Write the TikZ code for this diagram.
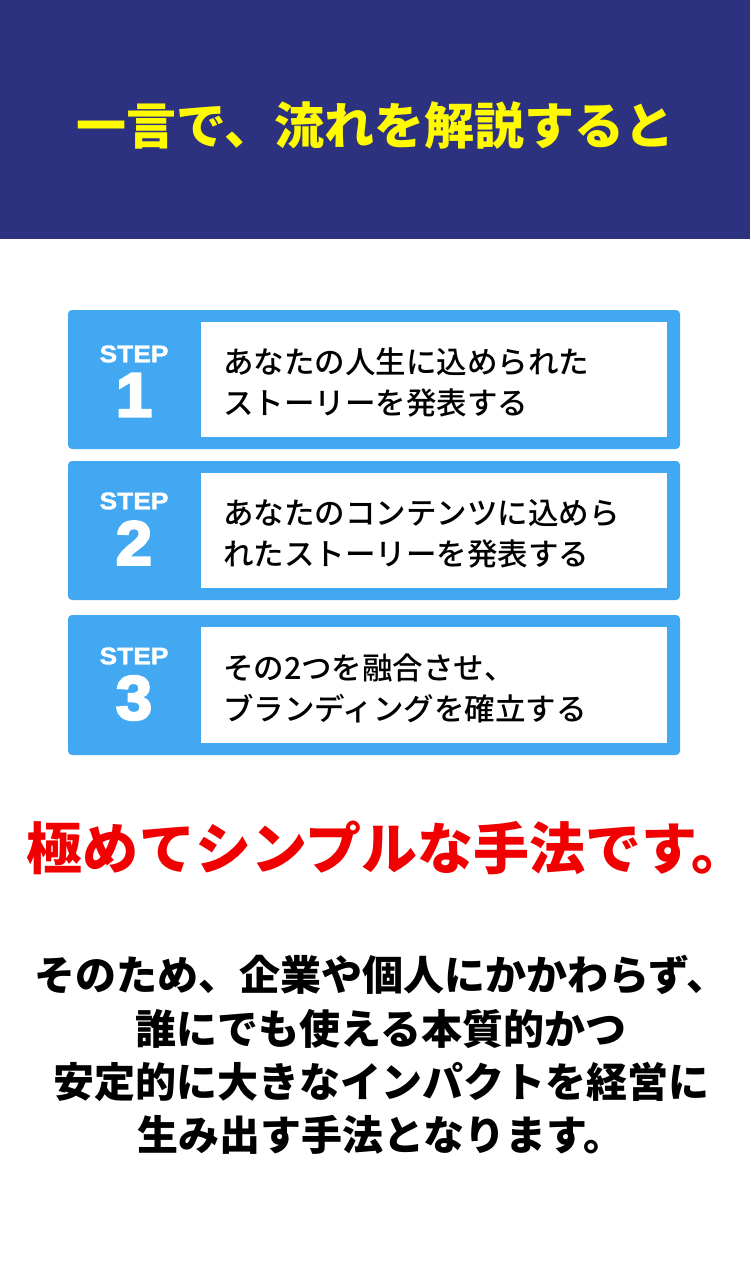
\documentclass[tikz,border=0pt]{standalone}
\usepackage{fontspec}
\setsansfont{Liberation Sans}
\newfontfamily\stepfont{Liberation Sans Bold}[FakeBold=1.5, FakeStretch=1.1]
\newfontfamily\numfont{Liberation Sans Bold}[FakeBold=4, FakeStretch=1.05]
\newfontfamily\jpregular{Noto Sans CJK JP}[UprightFont={* Medium}]
\newfontfamily\jpheavy{Noto Sans CJK JP}[UprightFont={* Black}]
\definecolor{headnavy}{RGB}{44,49,128}
\definecolor{headyellow}{RGB}{255,250,0}
\definecolor{stepblue}{RGB}{66,168,242}
\definecolor{punchred}{RGB}{240,0,0}
\begin{document}
\begin{tikzpicture}[
			x=1pt, y=-1pt,
			every node/.style={inner sep=0, outer sep=0},
			stepframe/.style={fill=stepblue, rounded corners=4pt, minimum width=612pt},
			stepinner/.style={fill=white, minimum width=466pt, minimum height=115pt},
			steplabel/.style={text=white, font=\stepfont\fontsize{24}{24}\selectfont},
			stepnum/.style={text=white, font=\numfont\fontsize{62}{62}\selectfont},
			steptext/.style={anchor=west, align=left, font=\jpregular\fontsize{30.5}{41}\selectfont},
		]
		\useasboundingbox (0,0) rectangle (750,1271);
		\fill[white] (0,0) rectangle (750,1271);
		\node[fill=headnavy, minimum width=750pt, minimum height=239pt, anchor=north west] (header) at (0,0) {};
		\node[text=headyellow, font=\jpheavy\fontsize{50}{50}\selectfont] (title) at (375,126) {一言で、流れを解説すると};
		\node[stepframe, minimum height=139pt] (frame1) at (374,379.5) {};
		\node[stepinner] (inner1) at (434,379.5) {};
		\node[steplabel] (label1) at (134,354) {STEP};
		\node[stepnum] (num1) at (134,395) {1};
		\node[steptext] (text1) at ([xshift=22pt, yshift=-3pt]inner1.west) {あなたの人生に込められた\\ストーリーを発表する};
		\node[stepframe, minimum height=139pt] (frame2) at (374,530.5) {};
		\node[stepinner] (inner2) at (434,530.5) {};
		\node[steplabel] (label2) at (134,501) {STEP};
		\node[stepnum] (num2) at (134,543) {2};
		\node[steptext] (text2) at ([xshift=22pt, yshift=-3pt]inner2.west) {あなたのコンテンツに込めら\\れたストーリーを発表する};
		\node[stepframe, minimum height=140pt] (frame3) at (374,685) {};
		\node[stepinner, minimum height=116pt] (inner3) at (434,685) {};
		\node[steplabel] (label3) at (134,656) {STEP};
		\node[stepnum] (num3) at (134,698) {3};
		\node[steptext] (text3) at ([xshift=22pt, yshift=-3pt]inner3.west) {その2つを融合させ、\\ブランディングを確立する};
		\node[text=punchred, anchor=west, font=\jpheavy\fontsize{56}{56}\selectfont] (punch) at (27,848) {極めてシンプルな手法です。};
		\node[align=center, font=\jpheavy\fontsize{41}{53.3}\selectfont] (summary) at (381,1055) {そのため、企業や個人にかかわらず、\\誰にでも使える本質的かつ\\安定的に大きなインパクトを経営に\\生み出す手法となります。};
		\end{tikzpicture}
\end{document}
